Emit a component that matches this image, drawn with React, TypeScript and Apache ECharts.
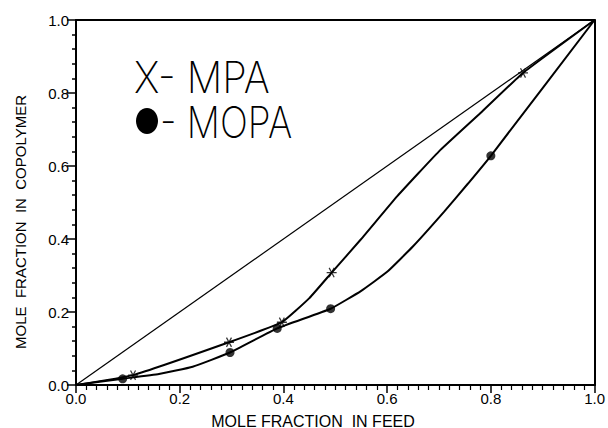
import React, { useEffect, useRef } from "react";
import * as echarts from "echarts";

const xTicks = [0, 0.2, 0.4, 0.6, 0.8, 1.0];

const diagX = [0, 1];
const diagY = [0, 1];

const mpaX = [0.11, 0.295, 0.397, 0.493, 0.862];
const mpaY = [0.027, 0.117, 0.172, 0.308, 0.855];

const mopaX = [0.09, 0.297, 0.388, 0.491, 0.8];
const mopaY = [0.017, 0.089, 0.155, 0.209, 0.628];

const mpaCurveX = [0, 0.11, 0.295, 0.397, 0.45, 0.493, 0.55, 0.62, 0.7, 0.78, 0.862, 1.0];
const mpaCurveY = [0, 0.027, 0.117, 0.172, 0.238, 0.308, 0.4, 0.518, 0.64, 0.745, 0.855, 1.0];

const mopaCurveX = [0, 0.09, 0.16, 0.225, 0.297, 0.388, 0.491, 0.55, 0.6, 0.65, 0.71, 0.756, 0.8, 1.0];
const mopaCurveY = [0, 0.017, 0.03, 0.05, 0.089, 0.155, 0.209, 0.258, 0.31, 0.38, 0.475, 0.552, 0.628, 1.0];

const xTitle = "MOLE FRACTION  IN FEED";
const yTitle = "MOLE  FRACTION  IN  COPOLYMER";
const legendMpa = "X- MPA";
const legendMopa = "- MOPA";

const zip = (xs: number[], ys: number[]) => xs.map((x, i) => [x, ys[i]]);

const ASTERISK =
  "path://M0,8.75 L20,8.75 L20,11.25 L0,11.25 Z M13.92,19.29 L16.08,18.04 L6.08,0.72 L3.92,1.96 Z M16.08,1.96 L13.92,0.72 L3.92,18.04 L6.08,19.29 Z";

const INK = "#000";

export default function App() {
  const ref = useRef<HTMLDivElement>(null);
  useEffect(() => {
    document.body.style.margin = "0";
    const chart = echarts.init(ref.current!, undefined, { renderer: "svg" });
    const labelFont = { fontFamily: "Liberation Sans, Arial, sans-serif", fontSize: 15, color: INK };
    chart.setOption({
      animation: false,
      backgroundColor: "#fff",
      grid: { left: 76, right: 11, top: 20, bottom: 43, containLabel: false },
      xAxis: [
        {
          type: "value",
          min: 0,
          max: 1,
          interval: 0.2,
          axisLine: { show: true, lineStyle: { color: INK, width: 2 } },
          axisTick: { show: true, inside: false, length: 8, lineStyle: { color: INK, width: 1.5 } },
          minorTick: { show: true, splitNumber: 10, length: 5, lineStyle: { color: INK, width: 1.2 } },
          splitLine: { show: false },
          axisLabel: {
            ...labelFont,
            margin: 6,
            formatter: (v: number) => (xTicks.includes(Math.round(v * 10) / 10) ? v.toFixed(1) : ""),
          },
        },
        {
          type: "value",
          position: "top",
          min: 0,
          max: 1,
          axisLine: { show: true, onZero: false, lineStyle: { color: INK, width: 2 } },
          axisTick: { show: false },
          axisLabel: { show: false },
          splitLine: { show: false },
        },
      ],
      yAxis: [
        {
          type: "value",
          min: 0,
          max: 1,
          interval: 0.2,
          axisLine: { show: true, lineStyle: { color: INK, width: 2 } },
          axisTick: { show: true, inside: false, length: 9, lineStyle: { color: INK, width: 1.5 } },
          minorTick: { show: true, splitNumber: 5, length: 4, lineStyle: { color: INK, width: 1.5 } },
          splitLine: { show: false },
          axisLabel: { ...labelFont, margin: 7, formatter: (v: number) => v.toFixed(1) },
        },
        {
          type: "value",
          position: "right",
          min: 0,
          max: 1,
          axisLine: { show: true, onZero: false, lineStyle: { color: INK, width: 2 } },
          axisTick: { show: false },
          axisLabel: { show: false },
          splitLine: { show: false },
        },
      ],
      graphic: [
        {
          type: "text",
          x: 313,
          y: 421,
          style: {
            text: xTitle,
            fontFamily: "Liberation Sans, Arial, sans-serif",
            fontSize: 16,
            fill: INK,
            align: "center",
            verticalAlign: "middle",
          },
        },
        {
          type: "text",
          x: 20,
          y: 222,
          rotation: Math.PI / 2,
          style: {
            text: yTitle,
            fontFamily: "Liberation Sans, Arial, sans-serif",
            fontSize: 15,
            fill: INK,
            align: "center",
            verticalAlign: "middle",
          },
        },
        {
          type: "text",
          x: 134,
          y: 77,
          scaleX: 0.9,
          style: {
            text: legendMpa,
            fontFamily: "Inter, sans-serif",
            fontWeight: 200,
            fontSize: 44,
            fill: INK,
            align: "left",
            verticalAlign: "middle",
          },
        },
        {
          type: "ellipse",
          shape: { cx: 147, cy: 121, rx: 11, ry: 13 },
          style: { fill: INK },
        },
        {
          type: "text",
          x: 160,
          y: 122,
          scaleX: 0.84,
          style: {
            text: legendMopa,
            fontFamily: "Inter, sans-serif",
            fontWeight: 200,
            fontSize: 44,
            fill: INK,
            align: "left",
            verticalAlign: "middle",
          },
        },
      ],
      series: [
        {
          name: "diagonal",
          type: "line",
          data: zip(diagX, diagY),
          symbol: "none",
          lineStyle: { color: INK, width: 1.2 },
          z: 2,
        },
        {
          name: "MPA curve",
          type: "line",
          data: zip(mpaCurveX, mpaCurveY),
          smooth: 0.12,
          symbol: "none",
          lineStyle: { color: INK, width: 2 },
          z: 2,
        },
        {
          name: "MOPA curve",
          type: "line",
          data: zip(mopaCurveX, mopaCurveY),
          smooth: 0.12,
          symbol: "none",
          lineStyle: { color: INK, width: 2 },
          z: 2,
        },
        {
          name: "MPA",
          type: "scatter",
          data: zip(mpaX, mpaY),
          symbol: ASTERISK,
          symbolSize: 10,
          itemStyle: { color: INK },
          z: 3,
        },
        {
          name: "MOPA",
          type: "scatter",
          data: zip(mopaX, mopaY),
          symbol: "circle",
          symbolSize: 9,
          itemStyle: { color: INK },
          z: 3,
        },
      ],
    });
    return () => chart.dispose();
  }, []);
  return <div ref={ref} style={{ width: 608, height: 428 }} />;
}
